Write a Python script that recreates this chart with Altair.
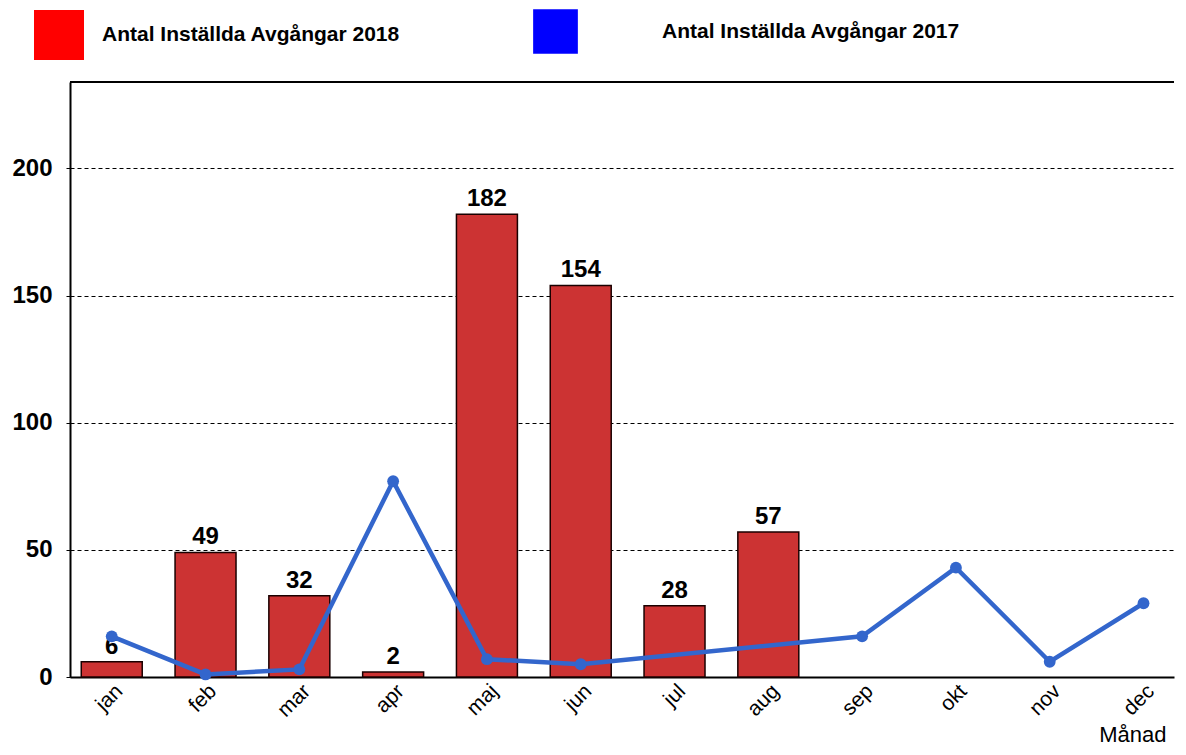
import altair as alt
import pandas as pd

MONTHS = ["jan", "feb", "mar", "apr", "maj", "jun", "jul", "aug", "sep", "okt", "nov", "dec"]
V2018 = [6, 49, 32, 2, 182, 154, 28, 57, None, None, None, None]
V2017 = [16, 1, 3, 77, 7, 5, None, None, 16, 43, 6, 29]
SERIES = ["Antal Inställda Avgångar 2018", "Antal Inställda Avgångar 2017"]
Y_TICKS = [0, 50, 100, 150, 200]
X_TITLE = "Månad"

df = pd.DataFrame({"month": MONTHS, "v2018": V2018, "v2017": V2017})
leg18 = pd.DataFrame({"series": [SERIES[0]]})
leg17 = pd.DataFrame({"series": [SERIES[1]]})

W, H = 1104, 595
FONT = "Liberation Sans"

x_enc = alt.X(
    "month:N",
    sort=MONTHS,
    scale=alt.Scale(domain=MONTHS, paddingInner=0.35, paddingOuter=0.06, align=1),
    axis=alt.Axis(
        title=X_TITLE,
        labelAngle=-45,
        labelFontSize=21,
        labelColor="black",
        labelPadding=3,
        ticks=False,
        domainColor="black",
        domainWidth=2,
        grid=False,
        titleFontSize=22,
        titleFontWeight="normal",
        titleColor="black",
        titleAnchor="end",
        titleAlign="right",
        titleBaseline="alphabetic",
        titleX=W - 8,
        titleY=64,
    ),
)
y_scale = alt.Scale(domain=[0, 234], nice=False, zero=True)
y_axis = alt.Axis(
    title=None,
    values=Y_TICKS,
    labelFontSize=24,
    labelFontWeight="bold",
    labelColor="black",
    labelPadding=14,
    tickSize=4,
    tickColor="black",
    domainColor="black",
    domainWidth=2,
    grid=True,
    gridColor="black",
    gridDash=[4, 3],
    gridWidth=1,
)

base = alt.Chart(df)

bars = base.transform_filter("isValid(datum.v2018)").mark_bar(
    color="#CC3333", stroke="#1a0000", strokeWidth=1.5
).encode(x=x_enc, y=alt.Y("v2018:Q", scale=y_scale, axis=y_axis))

labels = base.transform_filter("isValid(datum.v2018)").mark_text(
    fontSize=24, fontWeight="bold", color="black", baseline="alphabetic", dy=-8
).encode(x=alt.X("month:N", sort=MONTHS), y=alt.Y("v2018:Q"), text=alt.Text("v2018:Q"))

line = base.transform_filter("isValid(datum.v2017)").mark_line(
    color="#3366CC", strokeWidth=4.5
).encode(x=alt.X("month:N", sort=MONTHS), y=alt.Y("v2017:Q"))

points = base.transform_filter("isValid(datum.v2017)").mark_circle(
    color="#3366CC", size=140, opacity=1
).encode(x=alt.X("month:N", sort=MONTHS), y=alt.Y("v2017:Q"))

top_rule = alt.Chart(df).mark_rule(color="black", strokeWidth=2).encode(
    x=alt.value(0), x2=alt.value(W), y=alt.value(0)
)

legend18 = alt.Chart(leg18).mark_square(opacity=0).encode(
    color=alt.Color(
        "series:N",
        scale=alt.Scale(domain=[SERIES[0]], range=["#FF0000"]),
        legend=alt.Legend(
            title=None,
            orient="none",
            legendX=-36,
            legendY=-72,
            symbolType="square",
            symbolSize=2500,
            symbolStrokeWidth=0,
            symbolOpacity=1,
            labelFontSize=21,
            labelFontWeight="bold",
            labelColor="black",
            labelOffset=18,
            labelLimit=600,
            padding=0,
        ),
    )
)

legend17 = alt.Chart(leg17).mark_square(opacity=0).encode(
    color=alt.Color(
        "series:N",
        scale=alt.Scale(domain=[SERIES[1]], range=["#0000FF"]),
        legend=alt.Legend(
            title=None,
            orient="none",
            legendX=463,
            legendY=-73,
            symbolType="square",
            symbolSize=2000,
            symbolStrokeWidth=0,
            symbolOpacity=1,
            labelFontSize=21,
            labelFontWeight="bold",
            labelColor="black",
            labelOffset=84,
            labelLimit=600,
            padding=0,
        ),
    )
)

chart = (
    alt.layer(bars, labels, line, points, top_rule, legend18, legend17)
    .resolve_scale(color="independent")
    .properties(
        width=W,
        height=H,
        autosize=alt.AutoSizeParams(type="none"),
        padding={"left": 62, "top": 74, "right": 4, "bottom": 70},
    )
    .configure(font=FONT)
    .configure_view(strokeWidth=0)
)

chart.save("out.html", embed_options={"renderer": "svg", "actions": False})
